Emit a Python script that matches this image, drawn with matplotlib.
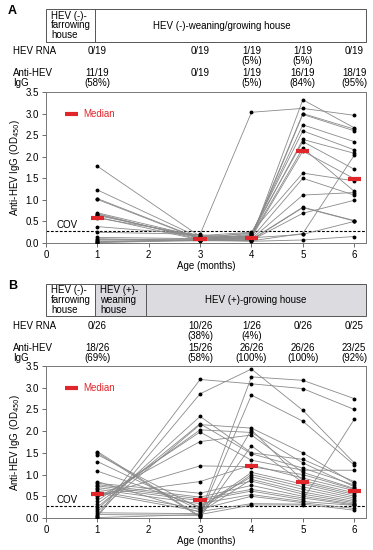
import numpy as np
import matplotlib
matplotlib.use('Agg')
import matplotlib.pyplot as plt
from matplotlib.transforms import blended_transform_factory
from matplotlib.patches import Rectangle

plt.rcParams['font.family'] = ['Liberation Sans', 'DejaVu Sans']
plt.rcParams['font.size'] = 7

months = [1, 3, 4, 5, 6]

# panel A: 19 pigs, OD450 per month
a_m1 = [1.78, 0.25, 1.23, 1.03, 1.01, 0.70, 0.68, 0.66, 0.64, 0.60, 0.58, 0.38, 0.13, 0.10, 0.08, 0.05, 0.03, 0.02, 0.01]
a_m3 = [0.15, 0.20, 0.12, 0.10, 0.09, 0.14, 0.08, 0.11, 0.13, 0.07, 0.17, 0.19, 0.10, 0.06, 0.09, 0.05, 0.08, 0.07, 0.06]
a_m4 = [0.10, 3.03, 0.15, 0.12, 0.20, 0.22, 0.18, 0.24, 0.16, 0.13, 0.25, 0.11, 0.09, 0.08, 0.07, 0.06, 0.05, 0.12, 0.04]
a_m5 = [3.32, 3.12, 3.00, 2.98, 2.74, 2.60, 2.40, 2.35, 2.20, 2.13, 1.62, 1.50, 1.11, 0.83, 0.82, 0.69, 0.22, 0.20, 0.07]
a_m6 = [2.67, 2.96, 2.64, 2.60, 2.35, 2.16, 2.08, 1.71, 1.20, 1.49, 1.44, 1.11, 1.17, 0.52, 0.51, 0.99, 2.03, 0.50, 0.15]

# panel B: 26 pigs (one missing at 6 months)
b_m1 = [0.05, 0.12, 0.03, 0.08, 0.20, 0.25, 0.15, 0.33, 0.40, 0.47, 0.50, 0.53, 1.53, 1.50, 1.46, 1.30, 1.08, 0.84, 0.80, 0.77, 0.74, 0.70, 0.66, 0.62, 0.58, 0.01]
b_m3 = [3.19, 0.10, 2.86, 0.06, 2.34, 2.17, 2.15, 2.03, 1.98, 1.76, 1.20, 0.84, 0.04, 0.02, 0.22, 0.18, 0.26, 0.13, 0.57, 0.48, 0.44, 0.40, 0.33, 0.20, 0.15, 0.08]
b_m4 = [3.09, 3.25, 3.43, 2.83, 1.50, 1.48, 2.07, 1.97, 1.33, 1.91, 1.18, 1.22, 2.03, 1.66, 1.05, 1.00, 0.95, 0.89, 0.85, 0.75, 0.66, 0.62, 0.54, 0.50, 0.33, 0.30]
b_m5 = [2.98, 3.17, 2.48, 2.23, 1.35, 1.15, 1.50, 1.27, 1.10, 1.05, 1.00, 0.92, 0.86, 0.82, 0.78, 0.72, 0.66, 0.60, 0.55, 0.50, 0.46, 0.42, 0.38, 0.35, 0.32, 0.30]
b_m6 = [2.50, 2.75, 1.27, 1.22, 0.84, 0.76, 0.80, 0.72, 1.10, 0.68, 0.66, 0.63, 0.58, 0.54, 0.50, 0.46, 0.42, 0.38, 0.35, 0.32, 0.30, 2.27, 0.29, 0.22, 0.18, np.nan]

cov = 0.27

a_rna = ['0/19', '0/19', '1/19\n(5%)', '1/19\n(5%)', '0/19']
a_igg = ['11/19\n(58%)', '0/19', '1/19\n(5%)', '16/19\n(84%)', '18/19\n(95%)']
b_rna = ['0/26', '10/26\n(38%)', '1/26\n(4%)', '0/26', '0/25']
b_igg = ['18/26\n(69%)', '15/26\n(58%)', '26/26\n(100%)', '26/26\n(100%)', '23/25\n(92%)']

W, H = 373, 550
fig = plt.figure(figsize=(W / 100, H / 100), dpi=100)
red = '#e0262a'


def fy(px):
    return 1 - px / H


def panel(rect, data, rna, igg, letter, top):
    ax = fig.add_axes(rect)
    vals = np.array(data)
    for pig in vals.T:
        ax.plot(months, pig, color='#8a8a8a', lw=0.6, zorder=2)
    for m, v in zip(months, vals):
        ax.plot([m] * len(v), v, 'o', color='black', ms=2.8, mew=0, zorder=3)
        med = np.nanmedian(v)
        ax.plot([m - 0.13, m + 0.13], [med, med], color=red, lw=3, solid_capstyle='butt', zorder=4)
    ax.axhline(cov, color='black', ls='--', lw=0.8, dashes=(2.5, 1.5), zorder=1)
    ax.text(0.2, cov + 0.04, 'COV', va='bottom', fontsize=7)
    ax.plot([0.37, 0.62], [3.0, 3.0], color=red, lw=3, solid_capstyle='butt')
    ax.text(0.72, 3.0, 'Median', color=red, va='center', fontsize=7)
    ax.set_xlim(0, 6.23)
    ax.set_ylim(0, 3.5)
    ax.set_xticks(range(7))
    ax.set_yticks(np.arange(0, 3.51, 0.5))
    ax.set_yticklabels(['%.1f' % t for t in np.arange(0, 3.51, 0.5)])
    ax.tick_params(direction='out', length=3, width=0.6, color='#555555', labelsize=7, pad=2)
    for s in ax.spines.values():
        s.set_color('#777777')
        s.set_linewidth(0.7)
    ax.set_xlabel('Age (months)', fontsize=7, labelpad=1)
    ax.set_ylabel('Anti-HEV IgG (OD$_{450}$)', fontsize=7, labelpad=3)

    tr = blended_transform_factory(ax.transData, fig.transFigure)
    fig.text(8 / W, fy(top + 2), letter, fontsize=9, fontweight='bold', va='center')
    y_rna = top + 37
    y_igg = top + 59
    fig.text(13 / W, fy(y_rna), 'HEV RNA', va='top', fontsize=7)
    fig.text(13 / W, fy(y_igg), 'Anti-HEV\nIgG', va='top', fontsize=7, linespacing=1.05)
    for m, r, g in zip(months, rna, igg):
        ax.text(m, fy(y_rna), r, transform=tr, ha='center', va='top', fontsize=7, linespacing=1.05)
        ax.text(m, fy(y_igg), g, transform=tr, ha='center', va='top', fontsize=7, linespacing=1.05)
    return ax, tr


axA, trA = panel([46 / W, fy(243), 320 / W, 151 / H], [a_m1, a_m3, a_m4, a_m5, a_m6],
                 a_rna, a_igg, 'A', 9)
axB, trB = panel([46 / W, fy(518), 320 / W, 152 / H], [b_m1, b_m3, b_m4, b_m5, b_m6],
                 b_rna, b_igg, 'B', 284)

# house boxes
edge = '#555555'
gray = '#dcdbe0'
# A
axA.add_patch(Rectangle((0, fy(42)), 6.23, 33 / H, transform=trA, fill=False,
                        ec=edge, lw=0.7, clip_on=False))
axA.plot([0.955, 0.955], [fy(42), fy(9)], transform=trA, color=edge, lw=0.7, clip_on=False)
axA.text(0.1, fy(25.5), 'HEV (-)-\nfarrowing\nhouse', transform=trA, va='center',
         fontsize=7, linespacing=0.95)
axA.text(3.42, fy(26), 'HEV (-)-weaning/growing house', transform=trA, ha='center',
         va='center', fontsize=7)
# B
axB.add_patch(Rectangle((0.955, fy(316)), 6.23 - 0.955, 32 / H, transform=trB,
                        fc=gray, ec='none', clip_on=False))
axB.add_patch(Rectangle((0, fy(316)), 6.23, 32 / H, transform=trB, fill=False,
                        ec=edge, lw=0.7, clip_on=False))
for xd in [0.955, 1.95]:
    axB.plot([xd, xd], [fy(316), fy(284)], transform=trB, color=edge, lw=0.7, clip_on=False)
axB.text(0.1, fy(300), 'HEV (-)-\nfarrowing\nhouse', transform=trB, va='center',
         fontsize=7, linespacing=0.95)
axB.text(1.05, fy(300), 'HEV (+)-\nweaning\nhouse', transform=trB, va='center',
         fontsize=7, linespacing=0.95)
axB.text(4.09, fy(300), 'HEV (+)-growing house', transform=trB, ha='center',
         va='center', fontsize=7)

fig.savefig('out.png', dpi=100)
